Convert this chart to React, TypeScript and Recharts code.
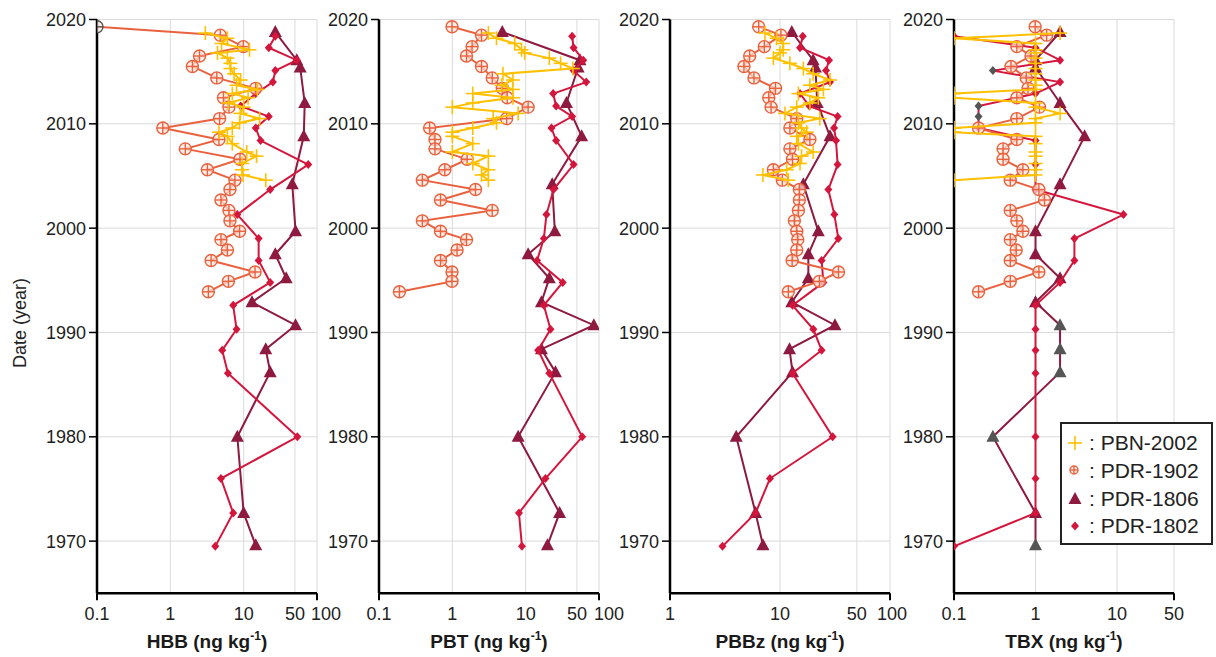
import React from 'react';
import { ScatterChart, Scatter, XAxis, YAxis, CartesianGrid, Legend } from 'recharts';

const FONT = '"Liberation Sans", Arial, Helvetica, sans-serif';

// sampling dates (year) of each core, top to bottom
const yearsPBN = [2018.7, 2018.2, 2017.7, 2017.1, 2016.8, 2016.3, 2015.8, 2015.3, 2014.8, 2014.2, 2013.7, 2013.3, 2012.9, 2012.5, 2012.0, 2011.6, 2011.0, 2010.5, 2010.1, 2009.6, 2009.2, 2008.8, 2008.1, 2007.3, 2006.9, 2006.2, 2005.6, 2005.1, 2004.6];
const years1902 = [2019.3, 2018.5, 2017.4, 2016.5, 2015.5, 2014.4, 2013.4, 2012.5, 2011.6, 2010.5, 2009.6, 2008.5, 2007.6, 2006.6, 2005.6, 2004.6, 2003.7, 2002.7, 2001.7, 2000.7, 1999.7, 1998.9, 1997.9, 1996.9, 1995.8, 1994.9, 1993.9];
const years1806 = [2018.8, 2016.1, 2015.4, 2012.0, 2008.8, 2004.2, 1999.7, 1997.5, 1995.2, 1992.9, 1990.7, 1988.4, 1986.2, 1980.0, 1972.7, 1969.6];
const years1802 = [2018.4, 2017.3, 2016.1, 2015.1, 2014.0, 2012.9, 2011.7, 2010.7, 2009.6, 2008.4, 2006.1, 2003.7, 2001.3, 1999.0, 1996.9, 1994.8, 1992.6, 1990.3, 1988.3, 1986.1, 1980.0, 1976.0, 1972.7, 1969.5];

// HBB (ng/kg)
const hbbPBN = [3.0, 6.0, 5.0, 12, 4.4, 6.0, 6.6, 6.6, 7.4, 9.1, 8.0, 15.4, 7.0, 11.5, 6.2, 10, 9.0, 16.5, 8.8, 7.0, 4.6, 6.0, 7.0, 11, 15, 9.5, 9.5, 9.8, 20];
const hbb1902 = [0.1, 4.8, 9.9, 2.5, 2.0, 4.3, 14.6, 5.3, 6.3, 4.7, 0.79, 4.6, 1.6, 8.9, 3.2, 7.6, 6.5, 4.9, 6.3, 6.5, 8.8, 4.9, 6.0, 3.6, 14.3, 6.2, 3.3];
const hbb1806 = [27, 53, 59, 68, 66, 46, 51, 27, 38, 13, 51, 20, 23, 8.2, 10, 14.6];
const hbb1802 = [27, 22, 53, 27, 25, 14.6, 9.1, 22, 14.6, 17, 76, 23, 8.2, 16, 16, 23, 7.2, 8.0, 5.1, 6.1, 54, 4.9, 7.2, 4.1];

// PBT
const pbtPBN = [3.1, 4.0, 7.1, 8.8, 9.7, 21, 30, 44, 4.9, 6.7, 4.7, 6.7, 1.9, 6.7, 1.9, 1.0, 7.9, 3.6, 4.0, 1.9, 1.0, 1.0, 1.9, 1.0, 3.1, 1.9, 3.1, 2.5, 3.1];
const pbt1902 = [0.99, 2.5, 1.86, 1.56, 2.5, 3.5, 4.8, 5.6, 10.8, 5.5, 0.49, 0.58, 0.58, 1.59, 0.79, 0.39, 2.07, 0.69, 3.5, 0.39, 0.69, 1.56, 1.16, 0.69, 0.99, 0.99, 0.19];
const pbt1806 = [4.8, 55, 52, 36, 58, 23, 25, 10.8, 21, 16.4, 85, 16.4, 25.5, 7.9, 29, 19.8];
const pbt1802 = [43, 45, 61, 45, 67, 23.7, 26, 43, 22.5, 26, 45, 24, 19.2, 17.7, 14.3, 32, 17.7, 21.8, 14.8, 21, 59, 18.6, 8.1, 8.9];

// PBBz
const pbbzPBN = [7.3, 9.3, 10.7, 10.7, 10, 8.7, 12.3, 16.3, 20, 28.5, 18.7, 24.8, 14.7, 22.3, 18.7, 14.2, 11.1, 23, 14.7, 15.7, 17.5, 14.2, 14.7, 20, 15.7, 15.2, 11.5, 7.0, 11.9];
const pbbz1902 = [6.4, 10.2, 7.2, 5.3, 4.7, 5.8, 9.1, 7.9, 8.3, 14.2, 12.3, 18.7, 12.3, 13.0, 8.7, 10.5, 15, 15, 14.7, 13.5, 14.2, 14.5, 14.2, 12.9, 34, 22.8, 11.9];
const pbbz1806 = [12.8, 20, 21, 21.8, 28.5, 16.3, 22.3, 18.1, 18.1, 12.8, 31.6, 12.2, 13.0, 4.0, 6.0, 7.0];
const pbbz1802 = [16.1, 15.2, 27.9, 26.2, 28.5, 15.2, 18.5, 33.4, 31, 32.3, 33.4, 27.5, 31.2, 33.9, 23.9, 24.8, 13.0, 20.1, 23.9, 13.0, 30.1, 8.1, 6.0, 3.0];

// TBX
const tbxPBN = [2.0, 0.1, 1.0, 1.0, 1.0, 1.0, 1.0, 1.0, 1.0, 1.0, 1.0, 1.0, 0.1, 0.1, 1.0, 1.0, 2.0, 1.0, 1.0, 0.1, 0.1, 1.0, 1.0, 1.0, 1.0, 1.0, 1.0, 1.0, 0.1];
const tbx1902 = [0.99, 1.37, 0.59, 0.88, 0.5, 0.77, 0.81, 0.59, 1.12, 0.59, 0.2, 0.59, 0.4, 0.4, 0.7, 0.49, 1.1, 1.29, 0.49, 0.59, 0.7, 0.49, 0.58, 0.49, 1.1, 0.49, 0.2];
const tbx1806 = [2.0, 1.0, 1.0, 2.0, 4.0, 2.0, 1.0, 1.0, 2.0, 1.0, 2.0, 2.0, 2.0, 0.3, 1.0, 1.0];
const tbx1802 = [0.1, 1.0, 2.0, 0.3, 2.0, 1.0, 0.2, 0.2, 0.2, 1.0, 1.0, 1.0, 12, 3.0, 3.0, 2.0, 1.0, 1.0, 1.0, 1.0, 1.0, 1.0, 1.0, 0.1];

// dates drawn in grey (not detected)
const hbbNd1902 = [2019.3];
const tbxNd1806 = [1990.7, 1988.4, 1986.2, 1980.0, 1969.6];
const tbxNd1802 = [2015.1, 2011.7, 2010.7];

const yearTicks = [1970, 1980, 1990, 2000, 2010, 2020];

const C_PBN = '#FFC000';
const C_1902 = '#E9623F';
const C_1806 = '#8E1A3F';
const C_1802 = '#D4163D';
const C_ND = '#555555';

const PLOT_W = 220;
const PLOT_TOP = 19.5;
const PLOT_BOTTOM = 593.3;
const H = 657;
const XAXIS_H = 60;
const RIGHT = 34;

const panels = [
  { name: 'HBB', plotLeft: 97, axisW: 97, domain: [0.1, 100], ticks: [0.1, 1, 10, 50, 100], nudge: 9,
    pbn: hbbPBN, d1902: hbb1902, d1806: hbb1806, d1802: hbb1802, nd1902: hbbNd1902, nd1806: [], nd1802: [] },
  { name: 'PBT', plotLeft: 379, axisW: 70, domain: [0.1, 100], ticks: [0.1, 1, 10, 50, 100], nudge: 10,
    pbn: pbtPBN, d1902: pbt1902, d1806: pbt1806, d1802: pbt1802, nd1902: [], nd1806: [], nd1802: [] },
  { name: 'PBBz', plotLeft: 670, axisW: 70, domain: [1, 100], ticks: [1, 10, 50, 100], nudge: 2,
    pbn: pbbzPBN, d1902: pbbz1902, d1806: pbbz1806, d1802: pbbz1802, nd1902: [], nd1806: [], nd1802: [] },
  { name: 'TBX', plotLeft: 954, axisW: 70, domain: [0.1, 50], ticks: [0.1, 1, 10, 50], nudge: 0,
    pbn: tbxPBN, d1902: tbx1902, d1806: tbx1806, d1802: tbx1802, nd1902: [], nd1806: tbxNd1806, nd1802: tbxNd1802 },
];

const toPts = (years: number[], vals: number[], nd: number[] = []) =>
  years.map((y, i) => ({ year: y, v: vals[i], nd: nd.includes(y) }));

const Cross = ({ cx, cy, color }: any) => (
  <g stroke={color} strokeWidth={1.6}>
    <line x1={cx - 7} y1={cy} x2={cx + 7} y2={cy} />
    <line x1={cx} y1={cy - 7} x2={cx} y2={cy + 7} />
  </g>
);
const CirclePlus = ({ cx, cy, color, r = 6 }: any) => (
  <g stroke={color} strokeWidth={1.4}>
    <circle cx={cx} cy={cy} r={r} fill="#fde8e0" fillOpacity={0.7} />
    <line x1={cx - r} y1={cy} x2={cx + r} y2={cy} />
    <line x1={cx} y1={cy - r} x2={cx} y2={cy + r} />
  </g>
);
const Tri = ({ cx, cy, color }: any) => (
  <polygon points={`${cx},${cy - 7} ${cx - 6.5},${cy + 5} ${cx + 6.5},${cy + 5}`} fill={color} />
);
const Diamond = ({ cx, cy, color }: any) => (
  <polygon points={`${cx},${cy - 4.5} ${cx + 4},${cy} ${cx},${cy + 4.5} ${cx - 4},${cy}`} fill={color} />
);

const XTick = ({ x, payload, ends, nudge }: any) => {
  const v = payload.value;
  return (
    <g>
      {ends.includes(v) && <line x1={x} x2={x} y1={PLOT_BOTTOM} y2={PLOT_BOTTOM + 7} stroke="#000" strokeWidth={2} />}
      <text x={x + (v === 100 ? nudge : 0)} y={PLOT_BOTTOM + 14} dy="0.71em" textAnchor="middle"
        fontSize={18} fill="#222" fontFamily={FONT}>{String(v)}</text>
    </g>
  );
};

const legendItems = [
  { label: 'PBN-2002', kind: 'cross', color: C_PBN },
  { label: 'PDR-1902', kind: 'circle', color: C_1902 },
  { label: 'PDR-1806', kind: 'tri', color: C_1806 },
  { label: 'PDR-1802', kind: 'diamond', color: C_1802 },
];

const LegendBox = () => (
  <div style={{ border: '2px solid #222', background: '#fff', padding: '5px 0 3px 0', fontFamily: FONT, fontSize: 21, color: '#222', lineHeight: 1 }}>
    {legendItems.map((it) => (
      <div key={it.label} style={{ height: 27.8, display: 'flex', alignItems: 'center' }}>
        <svg width={22} height={22} style={{ marginLeft: 2 }}>
          {it.kind === 'cross' && <Cross cx={11} cy={11} color={it.color} />}
          {it.kind === 'circle' && <CirclePlus cx={10} cy={11} r={4} color={it.color} />}
          {it.kind === 'tri' && <Tri cx={11} cy={12} color={it.color} />}
          {it.kind === 'diamond' && <Diamond cx={11} cy={11} color={it.color} />}
        </svg>
        <span style={{ marginLeft: 3 }}>: {it.label}</span>
      </div>
    ))}
  </div>
);

const Panel = ({ cfg, first, last }: any) => {
  const width = cfg.axisW + PLOT_W + RIGHT;
  const chartLeft = cfg.plotLeft - cfg.axisW;
  const ends = [cfg.domain[0], cfg.domain[1]];
  return (
    <div style={{ position: 'absolute', left: chartLeft, top: 0 }}>
      <ScatterChart width={width} height={H}
        margin={{ top: PLOT_TOP, right: RIGHT, bottom: H - PLOT_BOTTOM - XAXIS_H, left: 0 }}>
        <CartesianGrid stroke="#dadada" strokeWidth={1} />
        <XAxis type="number" dataKey="v" scale="log" domain={cfg.domain} ticks={cfg.ticks} allowDataOverflow
          interval={0} height={XAXIS_H} tickLine={false}
          axisLine={{ stroke: '#000', strokeWidth: 2.5 }}
          tick={(p: any) => <XTick {...p} ends={ends} nudge={cfg.nudge} />}
          label={() => (
            <text x={cfg.axisW + PLOT_W / 2} y={648} textAnchor="middle" fontSize={19} fontWeight="bold" fill="#1a1a1a" fontFamily={FONT}>
              {cfg.name} (ng kg<tspan fontSize={12} dy={-8}>-1</tspan><tspan dy={8}>)</tspan>
            </text>
          )} />
        <YAxis type="number" dataKey="year" domain={[1965, 2020]} ticks={yearTicks} interval={0} width={cfg.axisW}
          axisLine={{ stroke: '#000', strokeWidth: 2.5 }} tickLine={{ stroke: '#000', strokeWidth: 1.5 }}
          tickSize={8} tickMargin={3}
          tick={{ fontSize: 18, fill: '#222', fontFamily: FONT }}
          label={first ? () => (
            <text x={20} y={323} transform="rotate(-90 20 323)" textAnchor="middle" dominantBaseline="central"
              fontSize={18} fill="#222" fontFamily={FONT}>Date (year)</text>
          ) : undefined} />
        <Scatter name="PDR-1806" data={toPts(years1806, cfg.d1806, cfg.nd1806)} isAnimationActive={false}
          line={{ stroke: C_1806, strokeWidth: 2 }} lineType="joint"
          shape={(p: any) => <Tri cx={p.cx} cy={p.cy} color={p.payload?.nd ? C_ND : C_1806} />} />
        <Scatter name="PDR-1802" data={toPts(years1802, cfg.d1802, cfg.nd1802)} isAnimationActive={false}
          line={{ stroke: C_1802, strokeWidth: 2 }} lineType="joint"
          shape={(p: any) => <Diamond cx={p.cx} cy={p.cy} color={p.payload?.nd ? C_ND : C_1802} />} />
        <Scatter name="PDR-1902" data={toPts(years1902, cfg.d1902, cfg.nd1902)} isAnimationActive={false}
          line={{ stroke: C_1902, strokeWidth: 2 }} lineType="joint"
          shape={(p: any) => <CirclePlus cx={p.cx} cy={p.cy} color={p.payload?.nd ? C_ND : C_1902} />} />
        <Scatter name="PBN-2002" data={toPts(yearsPBN, cfg.pbn)} isAnimationActive={false}
          line={{ stroke: C_PBN, strokeWidth: 2 }} lineType="joint"
          shape={(p: any) => <Cross cx={p.cx} cy={p.cy} color={C_PBN} />} />
        {last && (
          <Legend layout="horizontal" verticalAlign="middle" align="center" content={() => <LegendBox />}
            wrapperStyle={{ left: 1060 - chartLeft, top: 421.7, width: 153, height: 'auto' }} />
        )}
      </ScatterChart>
    </div>
  );
}

export default function App() {
  return (
    <div style={{ position: 'absolute', left: 0, top: 0, width: 1216, height: 657, overflow: 'hidden', background: '#fff' }}>
      {panels.map((cfg, i) => (
        <Panel key={cfg.name} cfg={cfg} first={i === 0} last={i === panels.length - 1} />
      ))}
    </div>
  );
}
